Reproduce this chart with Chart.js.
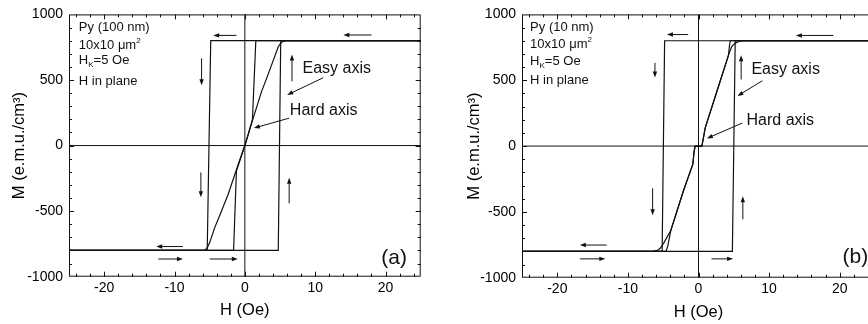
<!DOCTYPE html>
<html><head><meta charset="utf-8">
<script src="https://cdn.jsdelivr.net/npm/chart.js@4/dist/chart.umd.min.js"></script>
<style>
html,body{margin:0;padding:0;background:#fff;overflow:hidden;width:868px;height:324px;}
#ca{position:absolute;left:0;top:0;}
#cb{position:absolute;left:434px;top:0;}
</style></head><body>
<canvas id="ca" width="434" height="324"></canvas>
<canvas id="cb" width="460" height="324"></canvas>
<script>
// ---------- shared axes ----------
const xTicks = [-20, -10, 0, 10, 20];
const yTicks = [-1000, -500, 0, 500, 1000];
const xRange = [-25, 25];
const yRange = [-1000, 1000];
const zeroLineH = [-25, 25], zeroLineHM = [0, 0];
const zeroLineV = [0, 0], zeroLineVM = [-1000, 1000];

// ---------- panel (a): Py 100 nm ----------
const aEasyDescH = [25, -4.85, -5.35, -25];
const aEasyDescM = [800, 800, -800, -800];
const aEasyAscH  = [-25, 4.75, 5.1, 25];
const aEasyAscM  = [-800, -800, 800, 800];
const aHardDescH = [25, 1.56, 1.08, 0.5, 0, -0.95, -2.37, -3.4, -4.27, -5.0, -5.3, -5.6, -6.1, -25];
const aHardDescM = [800, 800, 200, 90, 0, -144, -371, -510, -624, -740, -775, -795, -800, -800];
const aHardAscH  = [-25, -1.6, -1.2, -0.5, 0, 1.19, 2.37, 3.1, 3.79, 4.74, 5.05, 5.35, 5.9, 25];
const aHardAscM  = [-800, -800, -195, -80, 0, 209, 411, 512, 613, 752, 778, 793, 800, 800];

// ---------- panel (b): Py 10 nm ----------
const bEasyDescH = [25, -4.8, -5.15, -25];
const bEasyDescM = [800, 800, -800, -800];
const bEasyAscH  = [-25, 4.8, 5.2, 25];
const bEasyAscM  = [-800, -800, 800, 800];
const bHardDescH = [25, 6.4, 5.8, 5.2, 4.7, 4.24, 2.6, 0.95, 0.62, 0.47, -0.47, -0.62, -0.8, -2.12, -3.91, -4.95, -5.4, -5.8, -6.5, -25];
const bHardDescM = [800, 800, 796, 782, 755, 689, 414, 138, 40, 0, 0, -40, -138, -338, -639, -739, -775, -793, -800, -800];
const bHardAscH  = [-25, -4.6, -4.35, -4.1, -3.91, -2.12, -0.8, -0.62, -0.47, 0.47, 0.62, 0.95, 2.6, 4.24, 4.38, 4.5, 25];
const bHardAscM  = [-800, -800, -760, -690, -639, -338, -138, -40, 0, 0, 40, 138, 414, 689, 760, 800, 800];

function pts(h, m) { return h.map((v, i) => ({x: v, y: m[i]})); }

const FONT = "'Liberation Sans', Arial, sans-serif";
const INK = '#111';

function lineDs(h, m, w) {
  return {data: pts(h, m), borderColor: INK, borderWidth: w, pointRadius: 0, tension: 0, showLine: true, fill: false};
}

function drawRich(ctx, x, y, segs, size) {
  let cx = x;
  for (const s of segs) {
    const fs = s.sub || s.sup ? size * 0.62 : size;
    ctx.font = fs + 'px ' + FONT;
    const dy = s.sub ? size * 0.32 : (s.sup ? -size * 0.35 : 0);
    ctx.fillText(s.t, cx, y + dy);
    cx += ctx.measureText(s.t).width;
  }
}

function decorPlugin(cfg) {
  return {
    id: 'decor',
    afterDatasetsDraw(chart) {
      const {ctx, chartArea: a, scales: {x, y}} = chart;
      ctx.save();
      ctx.strokeStyle = INK; ctx.fillStyle = INK; ctx.lineWidth = 1;
      ctx.strokeRect(a.left + 0.5, a.top + 0.5, a.right - a.left - 1, a.bottom - a.top - 1);
      ctx.beginPath();
      for (let v = -24; v <= 24; v += 2) {
        const px = Math.round(x.getPixelForValue(v)) + 0.5;
        const L = v % 10 === 0 ? 5 : 3;
        ctx.moveTo(px, a.bottom); ctx.lineTo(px, a.bottom - L);
        ctx.moveTo(px, a.top); ctx.lineTo(px, a.top + L);
      }
      for (let v = -900; v <= 900; v += 100) {
        const py = Math.round(y.getPixelForValue(v)) + 0.5;
        const L = v % 500 === 0 ? 5 : 3;
        ctx.moveTo(a.left, py); ctx.lineTo(a.left + L, py);
        ctx.moveTo(a.right, py); ctx.lineTo(a.right - L, py);
      }
      ctx.stroke();
      // arrows
      for (const ar of cfg.arrows) {
        const x1 = x.getPixelForValue(ar[0]), y1 = y.getPixelForValue(ar[1]);
        const x2 = x.getPixelForValue(ar[2]), y2 = y.getPixelForValue(ar[3]);
        const ang = Math.atan2(y2 - y1, x2 - x1);
        ctx.beginPath(); ctx.moveTo(x1, y1); ctx.lineTo(x2 - 4 * Math.cos(ang), y2 - 4 * Math.sin(ang)); ctx.stroke();
        ctx.beginPath();
        ctx.moveTo(x2, y2);
        ctx.lineTo(x2 - 6 * Math.cos(ang) + 2.2 * Math.sin(ang), y2 - 6 * Math.sin(ang) - 2.2 * Math.cos(ang));
        ctx.lineTo(x2 - 6 * Math.cos(ang) - 2.2 * Math.sin(ang), y2 - 6 * Math.sin(ang) + 2.2 * Math.cos(ang));
        ctx.closePath(); ctx.fill();
      }
      // texts
      ctx.textAlign = 'left'; ctx.textBaseline = 'middle';
      for (const t of cfg.texts) {
        drawRich(ctx, x.getPixelForValue(t.h), y.getPixelForValue(t.m), t.segs, t.size);
      }
      ctx.restore();
    }
  };
}

function makeChart(id, ds, cfg, geo) {
  return new Chart(document.getElementById(id), {
    type: 'scatter',
    data: {datasets: ds},
    options: {
      responsive: false, animation: false, devicePixelRatio: 1,
      layout: {padding: {top: geo.top, right: geo.right, left: 0, bottom: 0}},
      plugins: {legend: {display: false}, tooltip: {enabled: false}},
      scales: {
        x: {
          type: 'linear', min: xRange[0], max: xRange[1],
          afterBuildTicks: s => { s.ticks = xTicks.map(v => ({value: v})); },
          afterFit: s => { s.height = geo.xh; },
          grid: {display: false, drawTicks: false},
          border: {display: false},
          ticks: {color: '#000', font: {family: FONT, size: 14}, padding: 3, maxRotation: 0, callback: v => String(v)},
          title: {display: true, text: 'H (Oe)', color: '#000', font: {family: FONT, size: 16.5}, padding: {top: 0, bottom: geo.xtp}}
        },
        y: {
          type: 'linear', min: yRange[0], max: yRange[1],
          afterBuildTicks: s => { s.ticks = yTicks.map(v => ({value: v})); },
          afterFit: s => { s.width = geo.yw; },
          grid: {display: false, drawTicks: false},
          border: {display: false},
          ticks: {color: '#000', font: {family: FONT, size: 14}, padding: 6, callback: v => String(v)},
          title: {display: true, text: 'M (e.m.u./cm³)', color: '#000', font: {family: FONT, size: 16.5}, padding: {top: geo.ytp, bottom: 0}}
        }
      }
    },
    plugins: [decorPlugin(cfg)]
  });
}

function infoTexts(h, ms, thick) {
  return [
    {h: h, m: ms[0], size: 13, segs: [{t: 'Py (' + thick + ')'}]},
    {h: h, m: ms[1], size: 13, segs: [{t: '10x10 μm'}, {t: '2', sup: true}]},
    {h: h, m: ms[2], size: 13, segs: [{t: 'H'}, {t: 'K', sub: true}, {t: '=5 Oe'}]},
    {h: h, m: ms[3], size: 13, segs: [{t: 'H in plane'}]}
  ];
}

const cfgA = {
  arrows: [
    [-1.2, 840, -4.5, 840], [18, 843, 14, 843],
    [-6.15, 665, -6.15, 460], [-6.25, -205, -6.25, -395],
    [6.7, 490, 6.7, 695], [6.3, -440, 6.3, -245],
    [-8.8, -770, -12.6, -770], [-12.3, -865, -8.8, -865], [-5, -865, -1, -865],
    [11.14, 517, 6.02, 386], [6.3, 209, 1.28, 133]
  ],
  texts: infoTexts(-23.6, [904, 767, 646, 487], '100 nm').concat([
    {h: 8.2, m: 588, size: 16, segs: [{t: 'Easy axis'}]},
    {h: 6.4, m: 265, size: 16, segs: [{t: 'Hard axis'}]},
    {h: 19.4, m: -856, size: 21, segs: [{t: '(a)'}]}
  ])
};
const cfgB = {
  arrows: [
    [-1.46, 847, -4.47, 847], [19.1, 840, 13.8, 840],
    [-6.17, 632, -6.17, 520], [-6.5, -321, -6.5, -526],
    [6.04, 506, 6.04, 689], [6.28, -556, 6.28, -381],
    [-13.0, -752, -16.8, -752], [-16.8, -857, -13.2, -857], [1.84, -857, 4.9, -857],
    [9.05, 496, 5.52, 381], [6.22, 175, 1.19, 58]
  ],
  texts: infoTexts(-23.85, [902, 772, 644, 496], '10 nm').concat([
    {h: 7.5, m: 581, size: 16, segs: [{t: 'Easy axis'}]},
    {h: 6.8, m: 195, size: 16, segs: [{t: 'Hard axis'}]},
    {h: 20.4, m: -845, size: 21, segs: [{t: '(b)'}]}
  ])
};

const dsA = [
  lineDs(zeroLineH, zeroLineHM, 1), lineDs(zeroLineV, zeroLineVM, 1),
  lineDs(aEasyDescH, aEasyDescM, 1.2), lineDs(aEasyAscH, aEasyAscM, 1.2),
  lineDs(aHardDescH, aHardDescM, 1.2), lineDs(aHardAscH, aHardAscM, 1.2)
];
const dsB = [
  lineDs(zeroLineH, zeroLineHM, 1), lineDs(zeroLineV, zeroLineVM, 1),
  lineDs(bEasyDescH, bEasyDescM, 1.2), lineDs(bEasyAscH, bEasyAscM, 1.2),
  lineDs(bHardDescH, bHardDescM, 1.2), lineDs(bHardAscH, bHardAscM, 1.2)
];

makeChart('ca', dsA, cfgA, {top: 12.3, right: 13.3, xh: 47.3, yw: 69, xtp: 4, ytp: 10});
makeChart('cb', dsB, cfgB, {top: 11.7, right: 19, xh: 46.3, yw: 88, xtp: 2, ytp: 31});
</script>
</body></html>
